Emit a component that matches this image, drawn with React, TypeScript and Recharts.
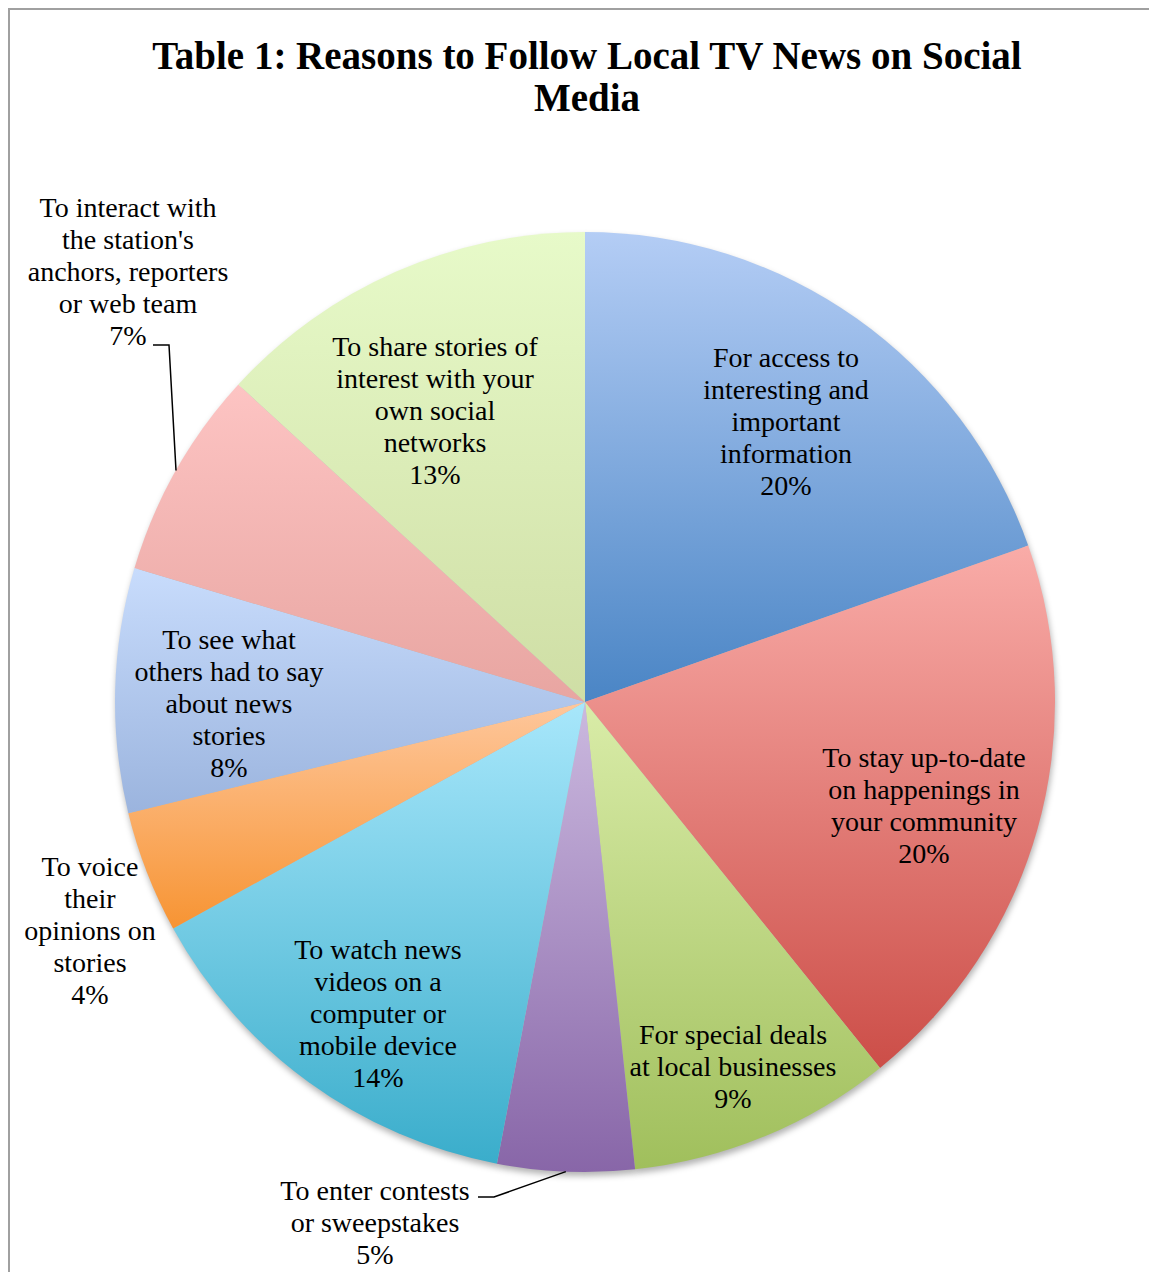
import { PieChart, Pie, Cell, Customized } from "recharts";

// slice order: clockwise from 12 o'clock
const categories = [
  "For access to\ninteresting and\nimportant\ninformation",
  "To stay up-to-date\non happenings in\nyour community",
  "For special deals\nat local businesses",
  "To enter contests\nor sweepstakes",
  "To watch news\nvideos on a\ncomputer or\nmobile device",
  "To voice\ntheir\nopinions on\nstories",
  "To see what\nothers had to say\nabout news\nstories",
  "To interact with\nthe station's\nanchors, reporters\nor web team",
  "To share stories of\ninterest with your\nown social\nnetworks",
];
// slice sizes as drawn
const shares = [19.6, 19.6, 9.1, 4.7, 14.0, 4.2, 8.4, 7.2, 13.2];
// percentages as printed on the labels
const shareLabels = ["20%", "20%", "9%", "5%", "14%", "4%", "8%", "7%", "13%"];

const gradTop = ["#b4cdf5", "#f9aca8", "#d9eca8", "#cbb9df", "#a8e7fb", "#fec79c", "#c8dcfc", "#fdc4c3", "#e7fac9"];
const gradBottom = ["#4a85c5", "#cc4e48", "#a0bf5c", "#8866a8", "#3aadcb", "#f79433", "#9bb4de", "#e8a5a1", "#cfdea5"];

// label block centre, relative to pie centre
const labelOffsets: [number, number][] = [
  [201, -281],
  [339, 103],
  [148, 364],
  [-210, 520],
  [-207, 311],
  [-495, 228],
  [-356, 1],
  [-457, -431],
  [-150, -292],
];
// leader line bends for the outside labels
const leaders: Record<number, [number, number][]> = {
  3: [[-91, 495], [-107, 495]],
  7: [[-416, -357], [-432, -357]],
};

const W = 1141;
const H = 1264;
const CX = 577;
const CY = 694;
const R = 470;
const LINE_H = 32;
const FONT = "'Liberation Serif', 'Times New Roman', serif";
const RADIAN = Math.PI / 180;

const data = categories.map((name, i) => ({ name, value: shares[i] }));

function renderLabel(p: any) {
  const { cx, cy, midAngle, outerRadius, index } = p;
  const [dx, dy] = labelOffsets[index];
  const lines = [...categories[index].split("\n"), shareLabels[index]];
  const x = cx + dx;
  const y0 = cy + dy - ((lines.length - 1) * LINE_H) / 2;
  const leader = leaders[index];
  let line = null;
  if (leader) {
    const sx = cx + outerRadius * Math.cos(-midAngle * RADIAN);
    const sy = cy + outerRadius * Math.sin(-midAngle * RADIAN);
    const pts = [[sx, sy], ...leader.map(([a, b]) => [cx + a, cy + b])];
    line = <polyline points={pts.map((q) => q.join(",")).join(" ")} fill="none" stroke="#000" strokeWidth={1.5} />;
  }
  return (
    <g key={`lbl-${index}`}>
      {line}
      <text textAnchor="middle" fontFamily={FONT} fontSize={28} fill="#000" dominantBaseline="central">
        {lines.map((l, i) => (
          <tspan key={i} x={x} y={y0 + i * LINE_H}>
            {l}
          </tspan>
        ))}
      </text>
    </g>
  );
}

const Decor = () => (
  <g>
    <line x1={1} y1={0} x2={1} y2={H} stroke="#a0a0a0" strokeWidth={2} />
    <line x1={0} y1={1} x2={W} y2={1} stroke="#a0a0a0" strokeWidth={2} />
    <text x={579} y={61} textAnchor="middle" fontFamily={FONT} fontWeight="bold" fontSize={39} fill="#000">
      Table 1: Reasons to Follow Local TV News on Social
    </text>
    <text x={579} y={103} textAnchor="middle" fontFamily={FONT} fontWeight="bold" fontSize={39} fill="#000">
      Media
    </text>
  </g>
);

export default function App() {
  return (
    <div style={{ position: "absolute", left: 8, top: 8, width: W, height: H, overflow: "hidden" }}>
      <PieChart width={W} height={H} margin={{ top: 0, right: 0, bottom: 0, left: 0 }}>
        <defs>
          {gradTop.map((c, i) => (
            <linearGradient key={i} id={`slice${i}`} x1="0" y1="0" x2="0" y2="1">
              <stop offset="0%" stopColor={c} />
              <stop offset="100%" stopColor={gradBottom[i]} />
            </linearGradient>
          ))}
          <filter id="pieShadow" x="-10%" y="-10%" width="120%" height="120%">
            <feGaussianBlur stdDeviation="3" />
          </filter>
        </defs>
        <Pie
          data={data}
          dataKey="value"
          nameKey="name"
          cx={CX + 1}
          cy={CY + 4}
          outerRadius={R}
          startAngle={90}
          endAngle={-270}
          stroke="none"
          isAnimationActive={false}
          legendType="none"
          label={false}
          labelLine={false}
        >
          {data.map((_, i) => (
            <Cell key={i} fill="#000" fillOpacity={0.3} filter="url(#pieShadow)" />
          ))}
        </Pie>
        <Pie
          data={data}
          dataKey="value"
          nameKey="name"
          cx={CX}
          cy={CY}
          outerRadius={R}
          startAngle={90}
          endAngle={-270}
          stroke="none"
          isAnimationActive={false}
          label={renderLabel}
          labelLine={false}
        >
          {data.map((_, i) => (
            <Cell key={i} fill={`url(#slice${i})`} />
          ))}
        </Pie>
        <Customized component={Decor} />
      </PieChart>
    </div>
  );
}
